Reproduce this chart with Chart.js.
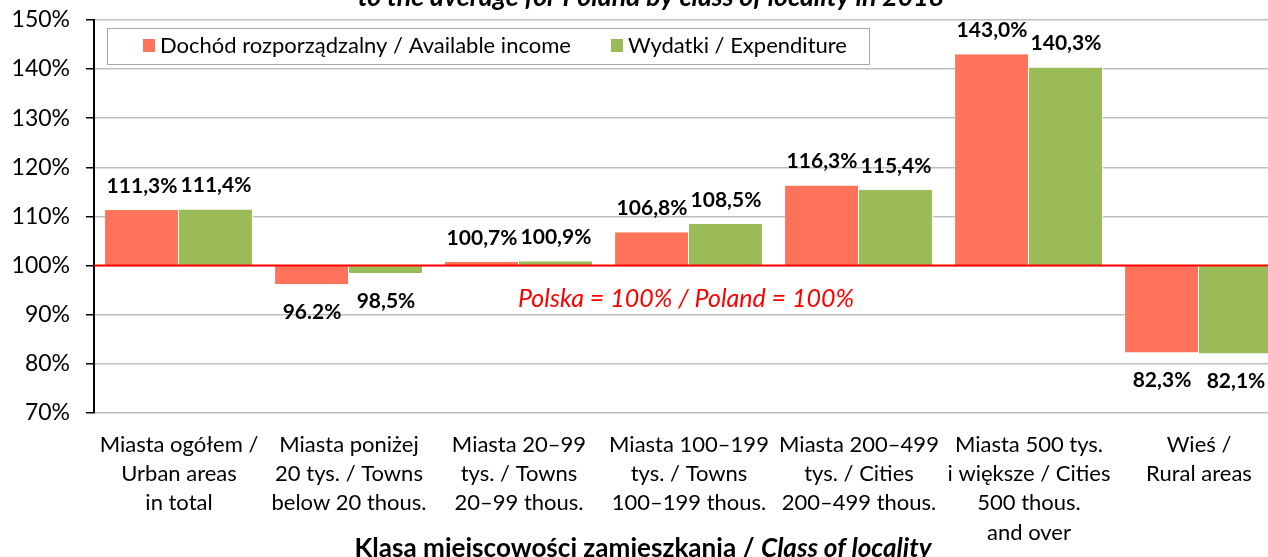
<!DOCTYPE html>
<html>
<head>
<meta charset="utf-8">
<script src="https://cdn.jsdelivr.net/npm/chart.js@4.4.1/dist/chart.umd.min.js"></script>
<style>
  html, body { margin: 0; padding: 0; background: #fff; overflow: hidden; }
  #wrap { position: relative; width: 1300px; height: 567px; margin-top: -10px; }
</style>
</head>
<body>
<div id="wrap"><canvas id="chart"></canvas></div>
<script>
const categories = [
  ["Miasta ogółem /", "Urban areas", "in total"],
  ["Miasta poniżej", "20 tys. / Towns", "below 20 thous."],
  ["Miasta 20–99", "tys. / Towns", "20–99 thous."],
  ["Miasta 100–199", "tys. / Towns", "100–199 thous."],
  ["Miasta 200–499", "tys. / Cities", "200–499 thous."],
  ["Miasta 500 tys.", "i większe / Cities", "500 thous.", "and over"],
  ["Wieś /", "Rural areas"]
];
const income = [111.3, 96.2, 100.7, 106.8, 116.3, 143.0, 82.3];
const expenditure = [111.4, 98.5, 100.9, 108.5, 115.4, 140.3, 82.1];
const incomeLabels = ["111,3%", "96.2%", "100,7%", "106,8%", "116,3%", "143,0%", "82,3%"];
const expenditureLabels = ["111,4%", "98,5%", "100,9%", "108,5%", "115,4%", "140,3%", "82,1%"];
const yTicks = [70, 80, 90, 100, 110, 120, 130, 140, 150];
const baseline = 100;

const FONT = "Lato";
const OY = 10; // canvas is shifted up by this much

// font size that makes text fill a given width
function fitFont(ctx, style, text, width) {
  ctx.font = style + " 20px " + FONT;
  const w = ctx.measureText(text).width;
  return 20 * width / w;
}

const extras = {
  id: "extras",
  afterDatasetsDraw(chart) {
    const ctx = chart.ctx;
    const area = chart.chartArea;
    const y = chart.scales.y;
    const y100 = y.getPixelForValue(baseline);

    // red 100% line
    ctx.save();
    ctx.strokeStyle = "#ff0000";
    ctx.lineWidth = 2;
    ctx.beginPath();
    ctx.moveTo(area.left, y100);
    ctx.lineTo(area.right, y100);
    ctx.stroke();

    // value labels
    ctx.fillStyle = "#000";
    ctx.font = "bold 21px " + FONT;
    ctx.textAlign = "center";
    ctx.textBaseline = "middle";
    const labelSets = [incomeLabels, expenditureLabels];
    chart.data.datasets.forEach((ds, i) => {
      chart.getDatasetMeta(i).data.forEach((bar, j) => {
        const v = ds.data[j][1];
        const top = Math.min(bar.y, bar.base);
        const bottom = Math.max(bar.y, bar.base);
        const yy = v >= baseline ? top - 24 : bottom + 28;
        ctx.fillText(labelSets[i][j], bar.x, yy);
      });
    });

    // note
    ctx.fillStyle = "#ff0000";
    ctx.font = "italic 25px " + FONT;
    ctx.fillText("Polska = 100% / Poland = 100%", 686, 299 + OY);
    ctx.restore();
  },
  afterDraw(chart) {
    const ctx = chart.ctx;
    ctx.save();

    // title (cut off at the top)
    const title = "to the average for Poland by class of locality in 2018";
    const ts = fitFont(ctx, "italic bold", title, 587);
    ctx.fillStyle = "#000";
    ctx.font = "italic bold " + ts + "px " + FONT;
    ctx.textAlign = "center";
    ctx.textBaseline = "alphabetic";
    ctx.fillText(title, 651, 6 + OY);

    // legend
    ctx.fillStyle = "#fff";
    ctx.fillRect(107, 28 + OY, 762, 36);
    ctx.strokeStyle = "#a6a6a6";
    ctx.lineWidth = 1;
    ctx.strokeRect(107.5, 28.5 + OY, 762, 36);
    ctx.font = "22px " + FONT;
    ctx.textAlign = "left";
    ctx.textBaseline = "middle";
    const items = [
      { x: 143, color: chart.data.datasets[0].backgroundColor, text: chart.data.datasets[0].label },
      { x: 611, color: chart.data.datasets[1].backgroundColor, text: chart.data.datasets[1].label }
    ];
    items.forEach(it => {
      ctx.fillStyle = it.color;
      ctx.fillRect(it.x, 39 + OY, 12, 13);
      ctx.fillStyle = "#000";
      ctx.fillText(it.text, it.x + 17, 46 + OY);
    });

    // x axis title, mixed style
    const p1 = "Klasa miejscowości zamieszkania / ";
    const p2 = "Class of locality";
    const as = fitFont(ctx, "bold", p1 + p2, 587);
    ctx.font = "bold " + as + "px " + FONT;
    const w1 = ctx.measureText(p1).width;
    ctx.font = "italic bold " + as + "px " + FONT;
    const w2 = ctx.measureText(p2).width;
    const x0 = 643 - (w1 + w2) / 2;
    ctx.textBaseline = "alphabetic";
    ctx.font = "bold " + as + "px " + FONT;
    ctx.fillText(p1, x0, 557 + OY);
    ctx.font = "italic bold " + as + "px " + FONT;
    ctx.fillText(p2, x0 + w1, 557 + OY);
    ctx.restore();
  }
};

new Chart(document.getElementById("chart"), {
  type: "bar",
  data: {
    labels: categories,
    datasets: [
      {
        label: "Dochód rozporządzalny / Available income",
        data: income.map(v => [baseline, v]),
        backgroundColor: "#ff735a",
        borderColor: "#ffffff",
        borderWidth: { left: 0, right: 1, top: 0, bottom: 0 },
        borderSkipped: false
      },
      {
        label: "Wydatki / Expenditure",
        data: expenditure.map(v => [baseline, v]),
        backgroundColor: "#9bbb59",
        borderColor: "#ffffff",
        borderWidth: { left: 0, right: 1, top: 0, bottom: 0 },
        borderSkipped: false
      }
    ]
  },
  options: {
    responsive: true,
    maintainAspectRatio: false,
    animation: false,
    layout: { padding: { top: 10, right: 16, left: 0, bottom: 0 } },
    datasets: {
      bar: { categoryPercentage: 0.87, barPercentage: 1.0, grouped: true }
    },
    plugins: {
      legend: { display: false },
      title: { display: false },
      tooltip: { enabled: false }
    },
    scales: {
      x: {
        grid: { display: false, drawTicks: false },
        border: { display: false },
        ticks: {
          color: "#000",
          font: { family: FONT, size: 22, lineHeight: 1.33 },
          padding: 17,
          maxRotation: 0,
          autoSkip: false
        },
        afterFit(scale) { scale.height = 144; }
      },
      y: {
        min: 70,
        max: 150,
        afterBuildTicks(scale) { scale.ticks = yTicks.map(v => ({ value: v })); },
        grid: { color: "#bfbfbf", lineWidth: 1.5, tickColor: "#000", tickLength: 8 },
        border: { color: "#000", width: 2 },
        ticks: {
          color: "#000",
          font: { family: FONT, size: 23 },
          padding: 16,
          callback: v => v + "%"
        },
        afterFit(scale) { scale.width = 94; }
      }
    }
  },
  plugins: [extras]
});
</script>
</body>
</html>
